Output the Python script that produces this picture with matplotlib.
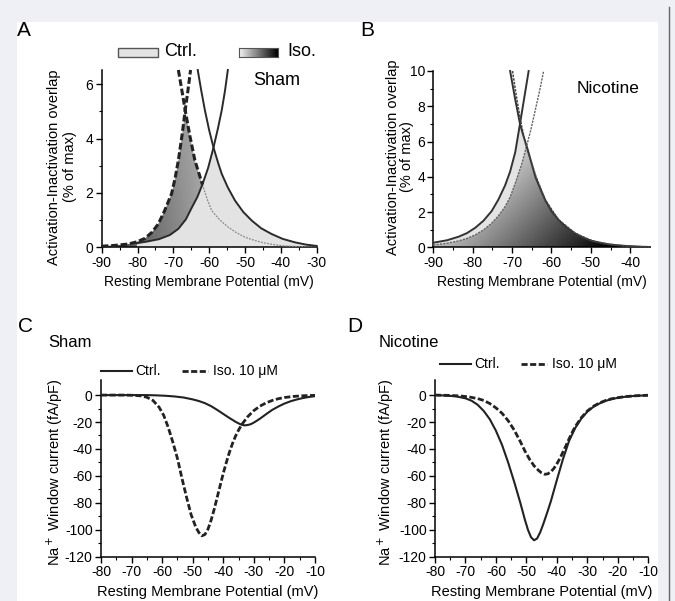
import numpy as np
import matplotlib
matplotlib.use('Agg')
import matplotlib.pyplot as plt
from matplotlib.patches import Rectangle
from matplotlib.lines import Line2D

plt.rcParams['font.family'] = ['Liberation Sans', 'DejaVu Sans']
plt.rcParams['axes.unicode_minus'] = False

# ---- data ----
# A: Sham, activation-inactivation overlap (% of max)
a_ctrl_act_x = [-80.2, -77, -74, -71, -68.6, -66.5, -64.9, -63.3, -61.9, -60.3, -58.8, -57.6, -56.5, -55.6, -54.8]
a_ctrl_act_y = [0.15, 0.22, 0.30, 0.45, 0.68, 1.03, 1.45, 1.85, 2.31, 2.92, 3.67, 4.35, 5.04, 5.75, 6.52]
a_ctrl_inact_x = [-63.2, -62.2, -61.2, -60, -58.8, -57.5, -56.5, -54.8, -52.8, -50.5, -48.1, -45.5, -42.6, -39.5, -36, -33, -30]
a_ctrl_inact_y = [6.52, 5.75, 5.04, 4.3, 3.67, 3.1, 2.7, 2.2, 1.72, 1.30, 0.98, 0.70, 0.49, 0.31, 0.18, 0.10, 0.05]
a_iso_act_x = [-90, -86.3, -82.6, -80.2, -77.9, -76, -74.2, -72.5, -70.5, -69.5, -68.6, -67.5, -66.7, -66, -65.2]
a_iso_act_y = [0.04, 0.07, 0.12, 0.2, 0.33, 0.55, 0.86, 1.33, 1.97, 2.55, 3.2, 4.2, 5.04, 5.7, 6.52]
a_iso_inact_x = [-68.6, -67.6, -66.7, -65.4, -64, -61.9, -60.5, -59.3, -57, -54.7, -52.3, -50, -47.5, -45.3, -42.5, -39.8, -36, -33, -30]
a_iso_inact_y = [6.52, 5.75, 5.04, 4.1, 3.2, 2.31, 1.75, 1.35, 1.0, 0.74, 0.53, 0.37, 0.26, 0.18, 0.11, 0.06, 0.03, 0.015, 0.01]

# B: Nicotine
b_ctrl_act_x = [-90, -86.5, -83.6, -81.5, -79.4, -77.3, -75.2, -73.5, -71.8, -70.5, -69.2, -68.0, -66.9, -65.8]
b_ctrl_act_y = [0.26, 0.40, 0.60, 0.80, 1.10, 1.50, 2.05, 2.7, 3.5, 4.3, 5.4, 7.0, 8.5, 10]
b_ctrl_inact_x = [-70.5, -69.3, -68.0, -67.1, -66.2, -65.1, -64.1, -62.8, -61.6, -60, -58.2, -56, -54, -52, -49.7, -47.5, -45.5, -43.5, -41.3, -39, -37, -35]
b_ctrl_inact_y = [10, 8.5, 7.0, 6.3, 5.67, 4.8, 4.0, 3.3, 2.68, 2.05, 1.55, 1.1, 0.79, 0.55, 0.36, 0.25, 0.17, 0.12, 0.08, 0.05, 0.03, 0.02]
b_iso_act_x = [-90, -86.8, -83.6, -81.5, -79.4, -77.3, -75.2, -73.5, -71.8, -70.5, -69.2, -67.5, -66.4, -65.2, -64.1, -63.0, -62.0]
b_iso_act_y = [0.13, 0.22, 0.36, 0.50, 0.70, 0.98, 1.36, 1.78, 2.30, 2.85, 3.63, 4.76, 5.67, 6.7, 7.8, 8.9, 10]
b_iso_inact_x = [-69.9, -68.8, -67.6, -66.4, -65.0, -64.0, -61.6, -58.2, -54, -49.7, -45.5, -41.3, -37, -35]
b_iso_inact_y = [10, 8.4, 6.9, 5.67, 4.75, 4.05, 2.7, 1.56, 0.8, 0.37, 0.17, 0.08, 0.03, 0.02]

# C: Sham, Na+ window current (fA/pF)
c_ctrl_v = [-80, -70, -65, -62, -59, -56, -53, -50, -48, -46, -44, -42, -40, -38, -36, -35, -34, -33, -32,
            -31, -30, -29, -28, -26, -24, -22, -20, -18, -16, -14, -12, -10]
c_ctrl_i = [0, 0, 0, -0.2, -0.5, -1.0, -1.8, -3.2, -4.4, -6.0, -8.2, -11, -14, -17, -19.8, -21, -22, -22.5, -22.2,
            -21.6, -20.4, -19, -17.5, -14.2, -11, -8.5, -6.3, -4.6, -3.3, -2.2, -1.4, -0.8]
c_iso_v = [-80, -72, -69, -67, -65, -63, -61, -59.5, -58, -56.5, -55, -53.5, -52, -50.5, -49, -48, -47, -46, -45,
           -44, -43, -42, -41, -40, -39, -38, -37, -36, -35, -34, -33, -32, -30, -28, -26, -24, -22, -20, -17, -14, -10]
c_iso_i = [0, 0, -0.2, -0.6, -1.6, -4, -9, -15, -24, -35, -47, -62, -76, -89, -98, -102, -104.5, -103.5, -99.5,
           -93, -85, -76, -67, -58, -50, -42.5, -36, -30.5, -26, -22, -19, -16, -11.5, -8.2, -5.8, -4.0, -2.7, -1.8, -1.0, -0.5, -0.2]

# D: Nicotine
d_ctrl_v = [-80, -76, -73, -70, -68, -66, -64, -62, -60, -58, -56, -54, -52, -50.5, -49.5, -48.5, -47.5, -46.5,
            -45.5, -44.5, -43, -42, -40, -38, -36, -34, -32, -30, -28, -26, -24, -22, -20, -17, -14, -10]
d_ctrl_i = [0, -0.4, -1.0, -2.4, -4.2, -7.2, -11.8, -18, -26.5, -37, -50, -64.5, -80, -92.5, -100, -105.5, -107.8, -106.5,
            -102, -96, -86, -79, -63, -47.5, -34, -24.5, -17.5, -12.3, -8.7, -6.2, -4.3, -3.0, -2.0, -1.1, -0.5, -0.2]
d_iso_v = [-80, -76, -72, -69, -66, -64, -62, -60, -58, -56, -54, -52, -50.5, -49, -47.5, -46, -45, -44, -43, -42,
           -41, -40, -39, -38, -37, -36, -35, -34, -32, -30, -28, -26, -24, -22, -18, -14, -10]
d_iso_i = [0, -0.2, -0.6, -1.3, -2.6, -4.0, -6.3, -9.5, -13.5, -19, -26, -34.5, -41.5, -47.5, -52.5, -56, -57.8, -58.8, -58.5, -57,
           -54.5, -51, -47, -42.3, -37.5, -32.5, -27.8, -23.5, -16.8, -11.8, -8.3, -5.8, -4.0, -2.7, -1.2, -0.5, -0.1]

W, H = 675, 601
fig = plt.figure(figsize=(W / 100, H / 100), dpi=100)
fig.patch.set_facecolor('#eff0f5')
fig.patches.append(Rectangle((17 / W, 0), (658 - 17) / W, (H - 22) / H, transform=fig.transFigure,
                             facecolor='white', edgecolor='none', zorder=-10))
fig.add_artist(Line2D([669 / W, 669 / W], [0, 1 - 7 / H], color='#666666', lw=1))


def px_axes(x0, ytop, x1, ybot):
    return fig.add_axes([x0 / W, 1 - ybot / H, (x1 - x0) / W, (ybot - ytop) / H])


def ftext(x, y, s, **kw):
    fig.text(x / W, 1 - y / H, s, **kw)


def style(ax):
    for s in ['top', 'right']:
        ax.spines[s].set_visible(False)
    for s in ['left', 'bottom']:
        ax.spines[s].set_linewidth(1.1)
    ax.tick_params(which='major', direction='out', length=4, width=1, labelsize=10, pad=2)
    ax.tick_params(which='minor', direction='out', length=2.5, width=0.8)
    ax.set_facecolor('none')


def region(rx, ry, dx, dy, xc):
    rx, ry, dx, dy = map(np.asarray, (rx, ry, dx, dy))
    m1 = rx <= xc
    m2 = dx > xc
    px = np.concatenate([[rx[m1][0]], rx[m1], dx[m2], [dx[m2][-1]]])
    py = np.concatenate([[0], ry[m1], dy[m2], [0]])
    return px, py


dash = (0, (2.2, 0.9))

# ---------------- A ----------------
axA = px_axes(101.7, 70, 316.7, 247.3)
style(axA)
axA.set_xlim(-90, -30)
axA.set_ylim(0, 6.52)
axA.set_xticks(range(-90, -29, 10))
axA.set_xticks(range(-85, -30, 10), minor=True)
axA.set_yticks([0, 2, 4, 6])
axA.set_yticks([1, 3, 5], minor=True)

ix, iy = region(a_iso_act_x, a_iso_act_y, a_iso_inact_x, a_iso_inact_y, -66.7)
iso_poly = axA.fill(ix, iy, facecolor='none', edgecolor='none')[0]
gx, gy = np.meshgrid(np.linspace(-90, -55, 200), np.linspace(0, 6.52, 100))
grad = np.clip(0.25 + 0.013 * (gx + 90) + 0.015 * gy, 0, 1)
im = axA.imshow(grad, extent=(-90, -55, 0, 6.52), origin='lower', cmap='gray', vmin=0, vmax=1,
                aspect='auto', zorder=1)
im.set_clip_path(iso_poly)
cx, cy = region(a_ctrl_act_x, a_ctrl_act_y, a_ctrl_inact_x, a_ctrl_inact_y, -58.8)
axA.fill(cx, cy, facecolor='#e3e3e3', edgecolor='none', zorder=2)

axA.plot(a_ctrl_act_x, a_ctrl_act_y, color='#2a2a2a', lw=1.4, zorder=4, clip_on=False)
axA.plot(a_ctrl_inact_x, a_ctrl_inact_y, color='#2a2a2a', lw=1.4, zorder=4, clip_on=False)
axA.plot(a_iso_act_x, a_iso_act_y, color='#222222', lw=2.2, ls=dash, zorder=5, clip_on=False)
aix = np.array(a_iso_inact_x)
aiy = np.array(a_iso_inact_y)
axA.plot(aix[aix <= -61.9], aiy[aix <= -61.9], color='#222222', lw=2.2, ls=dash, zorder=5, clip_on=False)
axA.plot(aix[aix >= -61.9], aiy[aix >= -61.9], color='#888888', lw=0.9, ls=(0, (1.5, 1)), zorder=3)
axA.text(-47.8, 6.15, 'Sham', fontsize=13, ha='left', va='center')
axA.set_xlabel('Resting Membrane Potential (mV)', fontsize=10, labelpad=4)

# legend of A
fig.patches.append(Rectangle((118 / W, 1 - 57 / H), 40 / W, 9.5 / H, transform=fig.transFigure,
                             facecolor='#e3e3e3', edgecolor='#555555', lw=1))
ftext(164, 52, 'Ctrl.', fontsize=13, va='center')
axL = px_axes(239, 47.5, 278, 57)
axL.imshow(np.linspace(0.95, 0, 100)[None, :], cmap='gray', vmin=0, vmax=1, aspect='auto')
axL.set_xticks([])
axL.set_yticks([])
for s in axL.spines.values():
    s.set_edgecolor('#555555')
ftext(287, 52, 'Iso.', fontsize=13, va='center')

ftext(54, 167, 'Activation-Inactivation overlap', fontsize=10.5, rotation=90, ha='center', va='center')
ftext(70, 167, '(% of max)', fontsize=10.5, rotation=90, ha='center', va='center')
ftext(17, 31, 'A', fontsize=15, va='center')

# ---------------- B ----------------
axB = px_axes(433.3, 71, 650, 247.3)
style(axB)
axB.set_xlim(-90, -35)
axB.set_ylim(0, 10)
axB.set_xticks(range(-90, -35, 10))
axB.set_xticks(range(-85, -35, 10), minor=True)
axB.set_yticks(range(0, 11, 2))
axB.set_yticks(range(1, 10, 2), minor=True)

cx, cy = region(b_ctrl_act_x, b_ctrl_act_y, b_ctrl_inact_x, b_ctrl_inact_y, -68.0)
axB.fill(cx, cy, facecolor='#e3e3e3', edgecolor='none', zorder=1)
ix, iy = region(b_iso_act_x, b_iso_act_y, b_iso_inact_x, b_iso_inact_y, -66.4)
iso_polyB = axB.fill(ix, iy, facecolor='none', edgecolor='none')[0]
gx, gy = np.meshgrid(np.linspace(-90, -35, 250), np.linspace(0, 10, 120))
gradB = np.clip(0.42 + 0.075 * gy - 0.017 * (gx + 70), 0, 0.82)
imB = axB.imshow(gradB, extent=(-90, -35, 0, 10), origin='lower', cmap='gray', vmin=0, vmax=1,
                 aspect='auto', zorder=2)
imB.set_clip_path(iso_polyB)

axB.plot(b_ctrl_act_x, b_ctrl_act_y, color='#333333', lw=1.4, zorder=4, clip_on=False)
axB.plot(b_ctrl_inact_x, b_ctrl_inact_y, color='#333333', lw=1.4, zorder=4, clip_on=False)
axB.plot(b_iso_act_x, b_iso_act_y, color='#666666', lw=1.0, ls=(0, (1.6, 0.8)), zorder=4, clip_on=False)
axB.plot(b_iso_inact_x, b_iso_inact_y, color='#444444', lw=1.1, ls=(0, (1.6, 0.8)), zorder=4, clip_on=False)
axB.text(-53.5, 9.0, 'Nicotine', fontsize=12.5, ha='left', va='center')
axB.set_xlabel('Resting Membrane Potential (mV)', fontsize=10, labelpad=4)

ftext(393, 157, 'Activation-Inactivation overlap', fontsize=10.5, rotation=90, ha='center', va='center')
ftext(407, 157, '(% of max)', fontsize=10.5, rotation=90, ha='center', va='center')
ftext(360, 31, 'B', fontsize=15, va='center')


# ---------------- C and D ----------------
def window_panel(ax, cv, ci, iv, ii):
    style(ax)
    ax.set_xlim(-80, -10)
    ax.set_ylim(-120, 11.2)
    ax.set_xticks(range(-80, -9, 10))
    ax.set_xticks(range(-75, -10, 10), minor=True)
    ax.set_yticks(range(-120, 1, 20))
    ax.set_yticks(range(-110, 0, 20), minor=True)
    ax.plot(cv, ci, color='#222222', lw=1.5, zorder=3)
    ax.plot(iv, ii, color='#222222', lw=2.0, ls=dash, zorder=3)
    ax.set_xlabel('Resting Membrane Potential (mV)', fontsize=10.5, labelpad=4)


axC = px_axes(101, 380, 315, 556.7)
window_panel(axC, c_ctrl_v, c_ctrl_i, c_iso_v, c_iso_i)
axD = px_axes(435, 380, 648.3, 556.7)
window_panel(axD, d_ctrl_v, d_ctrl_i, d_iso_v, d_iso_i)

for (lx, ly, px0, letter, title, tx) in [(101, 371, 18, 'C', 'Sham', 48), (440, 364, 347, 'D', 'Nicotine', 379)]:
    fig.add_artist(Line2D([lx / W, (lx + 31) / W], [1 - ly / H] * 2, color='#222222', lw=1.5))
    ftext(lx + 34, ly, 'Ctrl.', fontsize=10, va='center')
    fig.add_artist(Line2D([(lx + 81) / W, (lx + 107) / W], [1 - ly / H] * 2, color='#222222', lw=2.0, ls=dash))
    ftext(lx + 112, ly, 'Iso. 10 \u03bcM', fontsize=10, va='center')
    ftext(px0, 326, letter, fontsize=15, va='center')
    ftext(tx, 342, title, fontsize=12, va='center')

ftext(55, 472, 'Na$^+$ Window current (fA/pF)', fontsize=10.5, rotation=90, ha='center', va='center')
ftext(386, 472, 'Na$^+$ Window current (fA/pF)', fontsize=10.5, rotation=90, ha='center', va='center')

fig.savefig('out.png', dpi=100)
